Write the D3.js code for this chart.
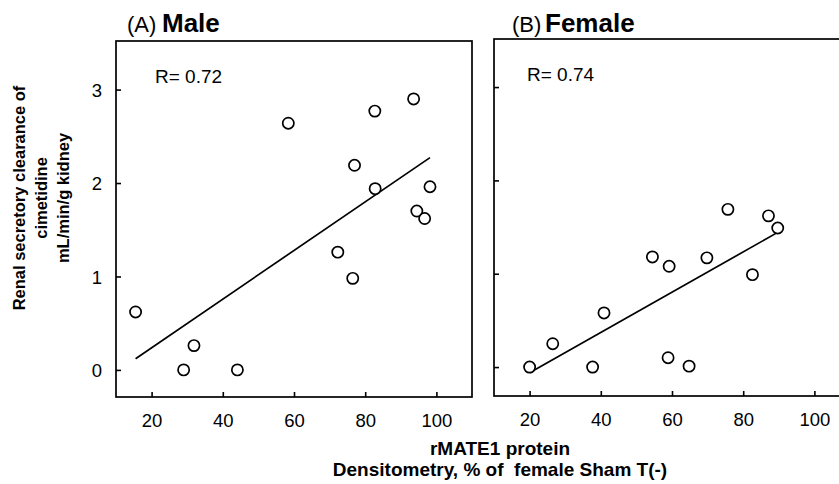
<!DOCTYPE html>
<html>
<head>
<meta charset="utf-8">
<script src="https://cdn.jsdelivr.net/npm/d3@7"></script>
<style>
  html, body { margin: 0; padding: 0; background: #fff; }
  svg { display: block; font-family: "Liberation Sans", Arial, Helvetica, sans-serif; }
</style>
</head>
<body>
<svg id="chart" width="839" height="484"></svg>
<script>
// ---- data ----
const maleX   = [15.5, 29.0, 31.9, 44.1, 58.4, 72.3, 76.5, 77.0, 82.7, 82.8, 93.6, 94.5, 96.7, 98.2];
const maleY   = [0.62, 0.00, 0.26, 0.00, 2.64, 1.26, 0.98, 2.19, 2.77, 1.94, 2.90, 1.70, 1.62, 1.96];
const femaleX = [20.0, 26.5, 37.7, 40.9, 54.5, 59.2, 58.9, 64.8, 69.8, 82.6, 75.7, 87.1, 89.7];
const femaleY = [0.00, 0.25, 0.00, 0.58, 1.18, 1.08, 0.10, 0.01, 1.17, 0.99, 1.69, 1.62, 1.49];
const xTicks = [20, 40, 60, 80, 100];
const yTicks = [0, 1, 2, 3];
const panelLetters = ["(A)", "(B)"];
const panelNames = ["Male", "Female"];
const rLabels = ["R= 0.72", "R= 0.74"];
const yTitle = ["Renal secretory clearance of", "cimetidine", "mL/min/g kidney"];
const xTitle = ["rMATE1 protein", "Densitometry, % of  female Sham T(-)"];

const svg = d3.select("#chart");

function fit(xs, ys) {
  const n = xs.length;
  const mx = d3.mean(xs), my = d3.mean(ys);
  let sxy = 0, sxx = 0;
  for (let i = 0; i < n; i++) { sxy += (xs[i]-mx)*(ys[i]-my); sxx += (xs[i]-mx)**2; }
  const b = sxy / sxx;
  return { slope: b, intercept: my - b*mx };
}

const panels = [
  { xs: maleX, ys: maleY, left: 116, right: 472, top: 41, bottom: 397, yDom: [-0.29, 3.52], showY: true, rx: 155, ry: 83, tx: 127, nx: 162 },
  { xs: femaleX, ys: femaleY, left: 494, right: 850, top: 39, bottom: 396, yDom: [-0.31, 3.515], showY: false, rx: 527, ry: 81, tx: 512, nx: 545 }
];

const FONT = "'Liberation Sans', Arial, sans-serif";

panels.forEach((p, i) => {
  const x = d3.scaleLinear().domain([10, 110]).range([p.left, p.right]);
  const y = d3.scaleLinear().domain(p.yDom).range([p.bottom, p.top]);
  const g = svg.append("g");

  // frame
  g.append("rect")
    .attr("x", p.left).attr("y", p.top)
    .attr("width", p.right - p.left).attr("height", p.bottom - p.top)
    .attr("fill", "none").attr("stroke", "#000").attr("stroke-width", 1.7);

  // x axis (ticks inward)
  const xa = g.append("g").attr("transform", `translate(0,${p.bottom})`)
    .call(d3.axisBottom(x).tickValues(xTicks).tickSize(-5).tickPadding(0).tickFormat(d3.format("d")));
  xa.select(".domain").remove();
  xa.selectAll(".tick line").attr("stroke", "#000").attr("stroke-width", 1.6);
  xa.selectAll(".tick text")
    .attr("y", 30).attr("dy", null)
    .attr("font-size", 18.5).attr("fill", "#000")
    .attr("font-family", FONT);

  // y axis (ticks inward)
  const ya = g.append("g").attr("transform", `translate(${p.left},0)`)
    .call(d3.axisLeft(y).tickValues(yTicks).tickSize(-5).tickPadding(0).tickFormat(d3.format("d")));
  ya.select(".domain").remove();
  ya.selectAll(".tick line").attr("stroke", "#000").attr("stroke-width", 1.6);
  ya.selectAll(".tick text")
    .attr("x", -14).attr("dy", "0.36em")
    .attr("font-size", 18.5).attr("fill", "#000")
    .attr("font-family", FONT)
    .style("display", p.showY ? null : "none");

  // regression line over data range
  const f = fit(p.xs, p.ys);
  const x0 = d3.min(p.xs), x1 = d3.max(p.xs);
  g.append("line")
    .attr("x1", x(x0)).attr("y1", y(f.intercept + f.slope*x0))
    .attr("x2", x(x1)).attr("y2", y(f.intercept + f.slope*x1))
    .attr("stroke", "#000").attr("stroke-width", 1.7);

  // points
  g.selectAll("circle.pt").data(p.xs.map((v, k) => [v, p.ys[k]])).join("circle")
    .attr("class", "pt")
    .attr("cx", d => x(d[0])).attr("cy", d => y(d[1]))
    .attr("r", 5.6)
    .attr("fill", "#fff").attr("stroke", "#000").attr("stroke-width", 1.7);

  // R label
  g.append("text").attr("x", p.rx).attr("y", p.ry)
    .attr("font-size", 19).text(rLabels[i]);

  // title
  g.append("text").attr("x", p.tx).attr("y", 32)
    .attr("font-size", 22).text(panelLetters[i]);
  g.append("text").attr("x", p.nx).attr("y", 32)
    .attr("font-size", 26).attr("font-weight", "bold").text(panelNames[i]);
});

// y-axis title (rotated, three lines)
const yt = svg.append("text")
  .attr("transform", "translate(0,198) rotate(-90)")
  .attr("text-anchor", "middle").attr("font-size", 16.5).attr("font-weight", "bold");
yTitle.forEach((s, k) => yt.append("tspan").attr("x", 0).attr("y", 25 + k*22).text(s));

// x-axis title (two lines)
const xt = svg.append("text").attr("text-anchor", "middle")
  .attr("font-size", 19).attr("font-weight", "bold");
xTitle.forEach((s, k) => xt.append("tspan").attr("x", 500).attr("y", 455 + k*21).attr("xml:space", "preserve").text(s));
</script>
</body>
</html>
